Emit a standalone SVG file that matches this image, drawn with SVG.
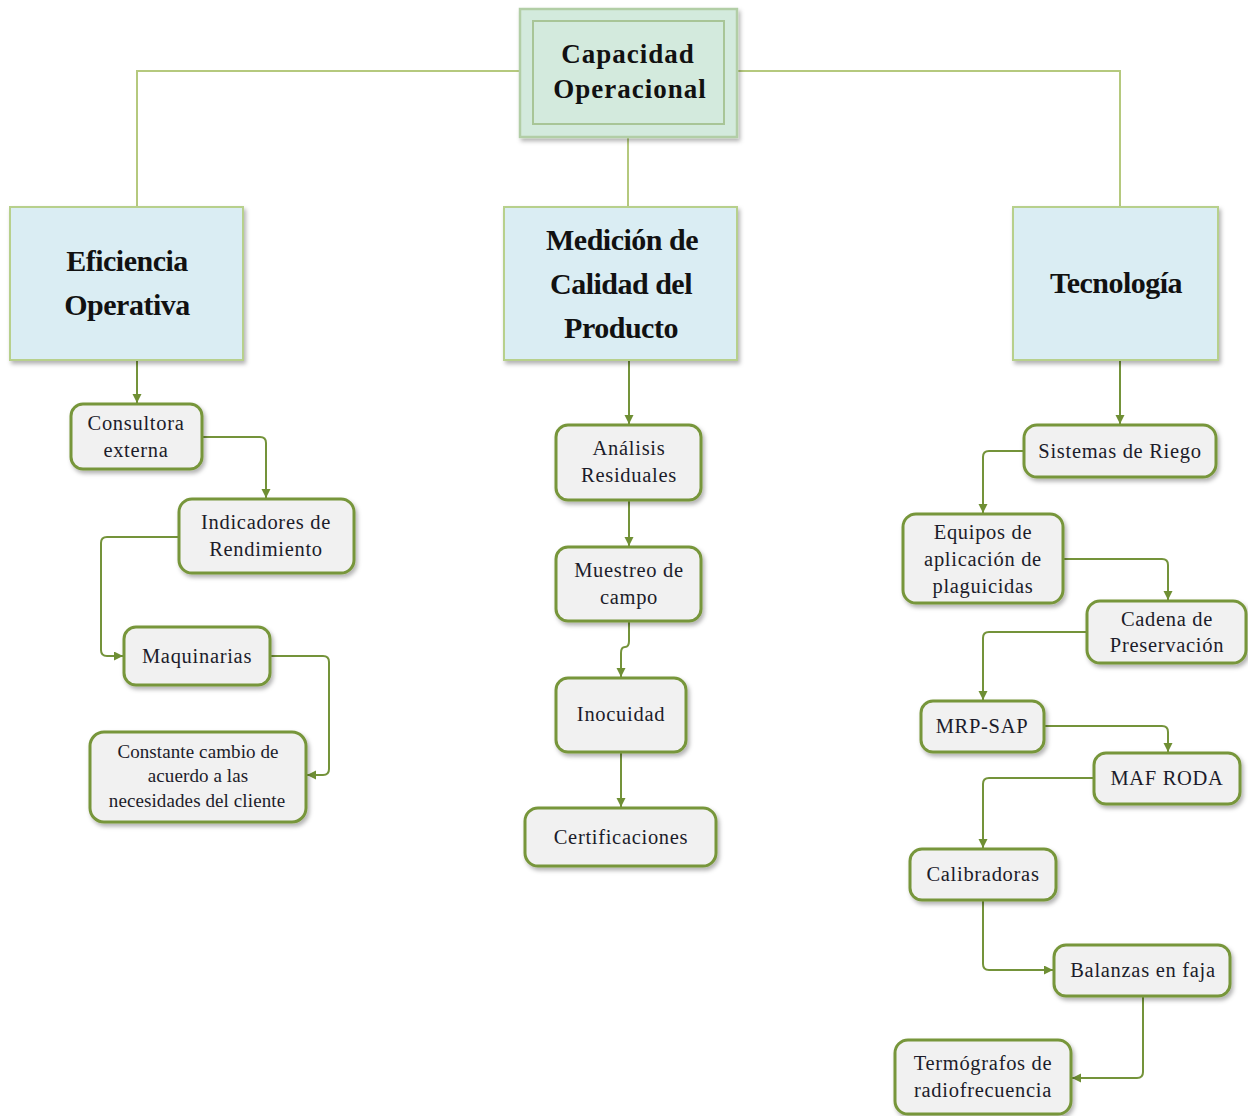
<svg xmlns="http://www.w3.org/2000/svg" width="1248" height="1116" viewBox="0 0 1248 1116">
<defs>
<filter id="sh" x="-10%" y="-10%" width="125%" height="135%">
<feDropShadow dx="2" dy="3" stdDeviation="2" flood-color="#000" flood-opacity="0.3"/>
</filter>
<marker id="ar" markerWidth="10" markerHeight="10" refX="9" refY="4.5" orient="auto" markerUnits="userSpaceOnUse">
<path d="M0,0 L9,4.5 L0,9 z" fill="#6f8f34"/>
</marker>
<style>
.root{fill:#d3eadd;stroke:#b2cea6;stroke-width:2.5}
.rooti{fill:none;stroke:#a8c597;stroke-width:2}
.l1{fill:#daedf3;stroke:#b7d08c;stroke-width:2}
.box{fill:#f1f1f1;stroke:#77963a;stroke-width:3}
.tt{font-family:"Liberation Serif",serif;font-weight:bold;font-size:27px;letter-spacing:1px;fill:#111;text-anchor:middle}
.t1{font-family:"Liberation Serif",serif;font-weight:bold;font-size:30px;letter-spacing:-0.5px;fill:#111;text-anchor:middle}
.t2{font-family:"Liberation Serif",serif;font-size:20.5px;letter-spacing:0.7px;fill:#1c1c2a;text-anchor:middle}
.t3{font-family:"Liberation Serif",serif;font-size:19px;letter-spacing:0.1px;fill:#1c1c2a;text-anchor:middle}
.top{fill:none;stroke:#b5c97e;stroke-width:2}
.cn{fill:none;stroke:#74933a;stroke-width:2}
</style>
</defs>

<g id="connectors">
<path class="top" d="M519,71 H137 V207"/>
<path class="top" d="M737,71 H1120 V207"/>
<path class="top" d="M628,137 V207"/>
<path class="cn" d="M137,360 V403" marker-end="url(#ar)"/>
<path class="cn" d="M202,437 H260 Q266,437 266,443 V498" marker-end="url(#ar)"/>
<path class="cn" d="M179,537 H107 Q101,537 101,543 V650 Q101,656 107,656 H123" marker-end="url(#ar)"/>
<path class="cn" d="M270,656 H323 Q329,656 329,662 V769 Q329,775 323,775 H307" marker-end="url(#ar)"/>
<path class="cn" d="M629,360 V424" marker-end="url(#ar)"/>
<path class="cn" d="M629,500 V546" marker-end="url(#ar)"/>
<path class="cn" d="M629,621 V641 Q629,647 625,647 Q621,647 621,653 V677" marker-end="url(#ar)"/>
<path class="cn" d="M621,752 V807" marker-end="url(#ar)"/>
<path class="cn" d="M1120,360 V424" marker-end="url(#ar)"/>
<path class="cn" d="M1024,451 H989 Q983,451 983,457 V513" marker-end="url(#ar)"/>
<path class="cn" d="M1063,559 H1162 Q1168,559 1168,565 V600" marker-end="url(#ar)"/>
<path class="cn" d="M1087,632 H989 Q983,632 983,638 V700" marker-end="url(#ar)"/>
<path class="cn" d="M1044,726 H1162 Q1168,726 1168,732 V752" marker-end="url(#ar)"/>
<path class="cn" d="M1094,778 H989 Q983,778 983,784 V848" marker-end="url(#ar)"/>
<path class="cn" d="M983,900 V964 Q983,970 989,970 H1053" marker-end="url(#ar)"/>
<path class="cn" d="M1143,996 V1072 Q1143,1078 1137,1078 H1072" marker-end="url(#ar)"/>
</g>

<g id="capacidad-operacional">
<rect class="root" x="520" y="9" width="217" height="128" filter="url(#sh)"/>
<rect class="rooti" x="533" y="21" width="191" height="103"/>
<text class="tt" x="628" y="63">Capacidad</text>
<text class="tt" x="630" y="98">Operacional</text>
</g>

<g id="eficiencia-operativa">
<rect class="l1" x="10" y="207" width="233" height="153" filter="url(#sh)"/>
<text class="t1" x="127" y="271">Eficiencia</text>
<text class="t1" x="127" y="315">Operativa</text>
</g>

<g id="medicion-calidad">
<rect class="l1" x="504" y="207" width="233" height="153" filter="url(#sh)"/>
<text class="t1" x="622" y="250">Medición de</text>
<text class="t1" x="621" y="294">Calidad del</text>
<text class="t1" x="621" y="338">Producto</text>
</g>

<g id="tecnologia">
<rect class="l1" x="1013" y="207" width="205" height="153" filter="url(#sh)"/>
<text class="t1" x="1116" y="293">Tecnología</text>
</g>

<g id="consultora-externa">
<rect class="box" x="71" y="404" width="131" height="65" rx="12" filter="url(#sh)"/>
<text class="t2" x="136" y="430">Consultora</text>
<text class="t2" x="136" y="457">externa</text>
</g>

<g id="indicadores-rendimiento">
<rect class="box" x="179" y="499" width="175" height="74" rx="13" filter="url(#sh)"/>
<text class="t2" x="266" y="529">Indicadores de</text>
<text class="t2" x="266" y="556">Rendimiento</text>
</g>

<g id="maquinarias">
<rect class="box" x="124" y="627" width="146" height="58" rx="12" filter="url(#sh)"/>
<text class="t2" x="197" y="663">Maquinarias</text>
</g>

<g id="constante-cambio">
<rect class="box" x="90" y="732" width="216" height="90" rx="14" filter="url(#sh)"/>
<text class="t3" x="198" y="758">Constante cambio de</text>
<text class="t3" x="198" y="782">acuerdo a las</text>
<text class="t3" x="197" y="807">necesidades del cliente</text>
</g>

<g id="analisis-residuales">
<rect class="box" x="556" y="425" width="145" height="75" rx="12" filter="url(#sh)"/>
<text class="t2" x="629" y="455">Análisis</text>
<text class="t2" x="629" y="482">Residuales</text>
</g>

<g id="muestreo-campo">
<rect class="box" x="556" y="547" width="145" height="74" rx="12" filter="url(#sh)"/>
<text class="t2" x="629" y="577">Muestreo de</text>
<text class="t2" x="629" y="604">campo</text>
</g>

<g id="inocuidad">
<rect class="box" x="556" y="678" width="130" height="74" rx="12" filter="url(#sh)"/>
<text class="t2" x="621" y="721">Inocuidad</text>
</g>

<g id="certificaciones">
<rect class="box" x="525" y="808" width="191" height="58" rx="13" filter="url(#sh)"/>
<text class="t2" x="621" y="844">Certificaciones</text>
</g>

<g id="sistemas-riego">
<rect class="box" x="1024" y="425" width="192" height="52" rx="13" filter="url(#sh)"/>
<text class="t2" x="1120" y="458">Sistemas de Riego</text>
</g>

<g id="equipos-plaguicidas">
<rect class="box" x="903" y="514" width="160" height="89" rx="13" filter="url(#sh)"/>
<text class="t2" x="983" y="539">Equipos de</text>
<text class="t2" x="983" y="566">aplicación de</text>
<text class="t2" x="983" y="593">plaguicidas</text>
</g>

<g id="cadena-preservacion">
<rect class="box" x="1087" y="601" width="159" height="62" rx="13" filter="url(#sh)"/>
<text class="t2" x="1167" y="626">Cadena de</text>
<text class="t2" x="1167" y="652">Preservación</text>
</g>

<g id="mrp-sap">
<rect class="box" x="921" y="701" width="123" height="51" rx="12" filter="url(#sh)"/>
<text class="t2" x="982" y="733">MRP-SAP</text>
</g>

<g id="maf-roda">
<rect class="box" x="1094" y="753" width="146" height="51" rx="12" filter="url(#sh)"/>
<text class="t2" x="1167" y="785">MAF RODA</text>
</g>

<g id="calibradoras">
<rect class="box" x="910" y="849" width="146" height="51" rx="12" filter="url(#sh)"/>
<text class="t2" x="983" y="881">Calibradoras</text>
</g>

<g id="balanzas-faja">
<rect class="box" x="1054" y="945" width="176" height="51" rx="12" filter="url(#sh)"/>
<text class="t2" x="1143" y="977">Balanzas en faja</text>
</g>

<g id="termografos">
<rect class="box" x="895" y="1040" width="176" height="74" rx="13" filter="url(#sh)"/>
<text class="t2" x="983" y="1070">Termógrafos de</text>
<text class="t2" x="983" y="1097">radiofrecuencia</text>
</g>
</svg>
